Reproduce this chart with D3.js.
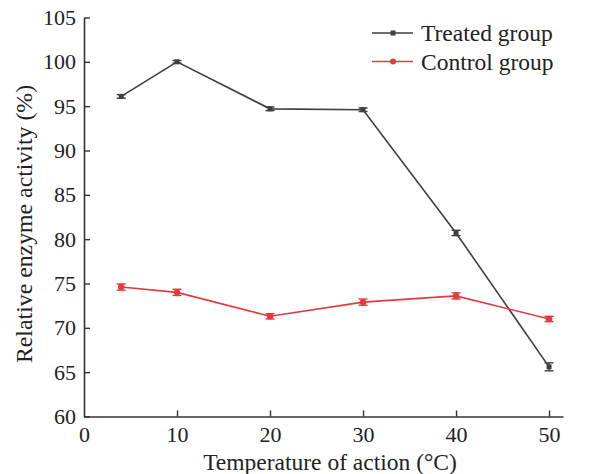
<!DOCTYPE html>
<html>
<head>
<meta charset="utf-8">
<script src="https://cdn.jsdelivr.net/npm/d3@7"></script>
<style>
  body { margin: 0; background: #fff; }
  text { font-family: "Liberation Serif", "Times New Roman", serif; fill: #222; }
</style>
</head>
<body>
<svg id="chart" width="592" height="474"></svg>
<script>
// Temperature of action (°C)
const temps = [4, 10, 20, 30, 40, 50];
// Relative enzyme activity (%)
const treated = [96.1, 100.0, 94.7, 94.6, 80.7, 65.6];
const treatedErr = [0.2, 0.15, 0.2, 0.2, 0.3, 0.45];
const control = [74.6, 74.0, 71.3, 72.9, 73.6, 71.0];
const controlErr = [0.35, 0.35, 0.3, 0.35, 0.35, 0.3];
const xTicks = [0, 10, 20, 30, 40, 50];
const yTicks = [60, 65, 70, 75, 80, 85, 90, 95, 100, 105];
const seriesNames = ["Treated group", "Control group"];

const svg = d3.select("#chart");
const x = d3.scaleLinear().domain([0, 51.5]).range([84, 563]);
const y = d3.scaleLinear().domain([60, 105]).range([416.5, 17.5]);

// Axes with inward ticks
const xAxis = svg.append("g").attr("transform", `translate(0,${y(60)})`)
  .call(d3.axisBottom(x).tickValues(xTicks).tickSize(-6).tickPadding(12).tickSizeOuter(0));
const yAxis = svg.append("g").attr("transform", `translate(${x(0)},0)`)
  .call(d3.axisLeft(y).tickValues(yTicks).tickSize(-6).tickPadding(9).tickSizeOuter(0));
[xAxis, yAxis].forEach(a => {
  a.select(".domain").attr("stroke", "#333").attr("stroke-width", 1.6);
  a.selectAll(".tick line").attr("stroke", "#333").attr("stroke-width", 1.4);
  a.selectAll(".tick text").style("font-size", "22px").attr("fill", "#222");
});
xAxis.selectAll(".tick").filter(d => d === 0).select("line").remove();
xAxis.selectAll(".tick text").attr("dy", "0.62em");
yAxis.selectAll(".tick text").attr("dx", "1px");

// Axis titles
svg.append("text").attr("x", 330).attr("y", 470).attr("text-anchor", "middle")
  .style("font-size", "23.5px").text("Temperature of action (\u00B0C)");
svg.append("text").attr("transform", "translate(32,224) rotate(-90)").attr("text-anchor", "middle")
  .style("font-size", "23.8px").text("Relative enzyme activity (%)");

const series = [
  { name: seriesNames[0], vals: treated, err: treatedErr, color: "#3f3f3f", shape: "square" },
  { name: seriesNames[1], vals: control, err: controlErr, color: "#e5393e", shape: "circle" }
];

const line = d3.line().x((d, i) => x(temps[i])).y(d => y(d));

series.forEach(s => {
  const g = svg.append("g");
  g.append("path").datum(s.vals).attr("d", line)
    .attr("fill", "none").attr("stroke", s.color).attr("stroke-width", 1.6);
  // error bars
  const eb = g.selectAll(".eb").data(s.vals).enter().append("g");
  eb.append("line")
    .attr("x1", (d, i) => x(temps[i])).attr("x2", (d, i) => x(temps[i]))
    .attr("y1", (d, i) => y(d - s.err[i])).attr("y2", (d, i) => y(d + s.err[i]))
    .attr("stroke", s.color).attr("stroke-width", 1.4);
  [-1, 1].forEach(sign => {
    eb.append("line")
      .attr("x1", (d, i) => x(temps[i]) - 4.5).attr("x2", (d, i) => x(temps[i]) + 4.5)
      .attr("y1", (d, i) => y(d + sign * s.err[i])).attr("y2", (d, i) => y(d + sign * s.err[i]))
      .attr("stroke", s.color).attr("stroke-width", 1.4);
  });
  // markers
  if (s.shape === "square") {
    g.selectAll(".m").data(s.vals).enter().append("rect")
      .attr("x", (d, i) => x(temps[i]) - 2.5).attr("y", d => y(d) - 2.5)
      .attr("width", 5).attr("height", 5).attr("fill", s.color);
  } else {
    g.selectAll(".m").data(s.vals).enter().append("circle")
      .attr("cx", (d, i) => x(temps[i])).attr("cy", d => y(d))
      .attr("r", 3.2).attr("fill", s.color);
  }
});

// Legend
series.forEach((s, k) => {
  const ly = 33 + k * 28.5;
  const lg = svg.append("g");
  lg.append("line").attr("x1", 372).attr("x2", 413).attr("y1", ly).attr("y2", ly)
    .attr("stroke", s.color).attr("stroke-width", 1.6);
  if (s.shape === "square") {
    lg.append("rect").attr("x", 390.5).attr("y", ly - 2.5).attr("width", 5).attr("height", 5).attr("fill", s.color);
  } else {
    lg.append("circle").attr("cx", 393).attr("cy", ly).attr("r", 3).attr("fill", s.color);
  }
  lg.append("text").attr("x", 421).attr("y", ly).attr("dy", "0.35em")
    .style("font-size", "23.5px").text(s.name);
});
</script>
</body>
</html>
